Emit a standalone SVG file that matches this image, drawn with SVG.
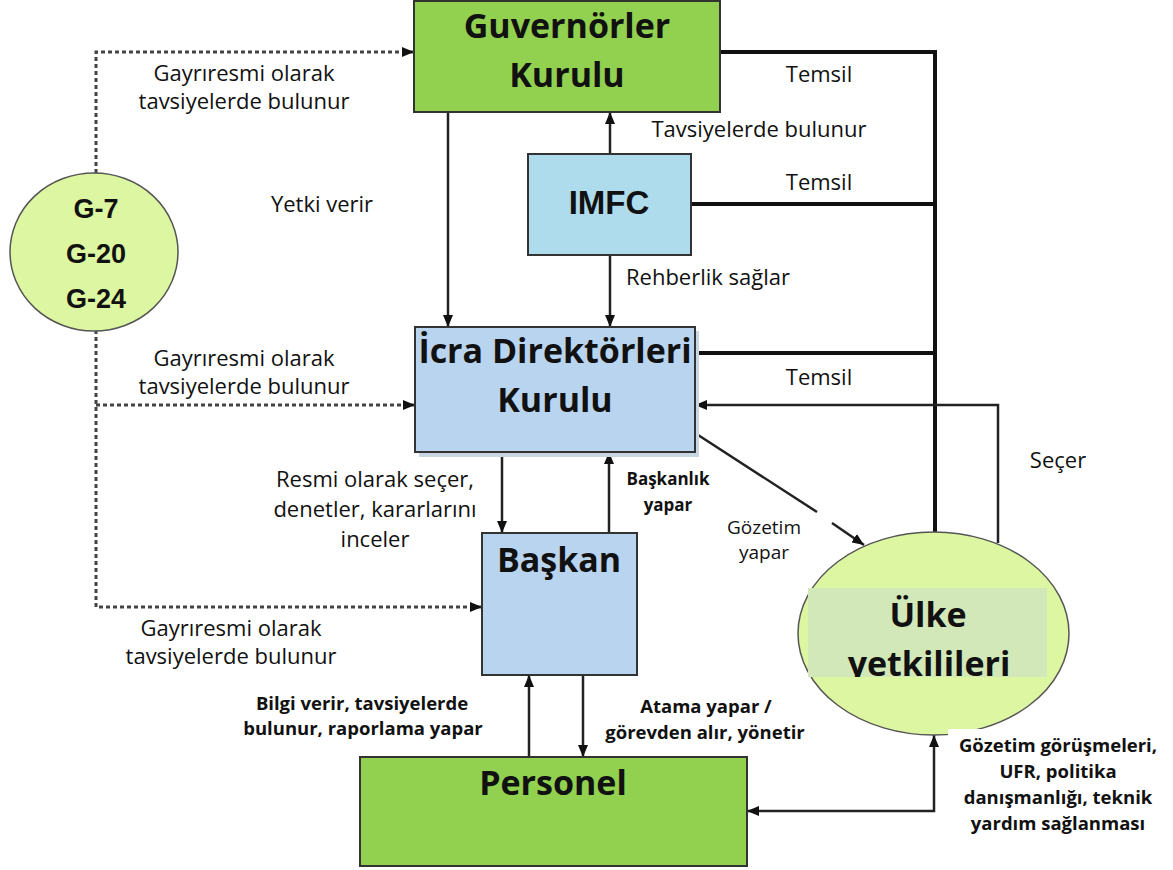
<svg xmlns="http://www.w3.org/2000/svg" width="1173" height="870" viewBox="0 0 1173 870">
<style>
.box{stroke:#333;stroke-width:2}
.green{fill:#92d050}
.blue{fill:#b9d4ee}
.cyan{fill:#afdcec}
.big{font-family:"Open Sans","Noto Sans",sans-serif;font-weight:bold;font-size:34px;fill:#111;text-anchor:middle}
.arial{font-family:"Liberation Sans",Arial,sans-serif;font-weight:bold;fill:#111;text-anchor:middle}
.lbl{font-family:"Open Sans","Noto Sans",sans-serif;font-size:22px;fill:#111;text-anchor:middle}
.sm{font-family:"Open Sans","Noto Sans",sans-serif;font-size:19px;fill:#111;text-anchor:middle}
.bl{font-family:"Open Sans","Noto Sans",sans-serif;font-weight:bold;font-size:18.5px;fill:#111;text-anchor:middle}
.bs{font-family:"Open Sans","Noto Sans",sans-serif;font-weight:bold;font-size:17px;fill:#111;text-anchor:middle}
.ln{fill:none;stroke:#222;stroke-width:2.5}
.thick{fill:none;stroke:#111;stroke-width:4}
.dot{fill:none;stroke:#444;stroke-width:3;stroke-dasharray:4 3}
</style>
<defs>
<marker id="arr" viewBox="0 0 12 10" refX="12" refY="5" markerWidth="12" markerHeight="10" markerUnits="userSpaceOnUse" orient="auto-start-reverse">
<path d="M0,0 L12,5 L0,10 z" fill="#111"/>
</marker>
<clipPath id="ulkeclip"><rect x="808" y="588" width="239" height="89"/></clipPath>
</defs>
<rect width="1173" height="870" fill="#fff"/>

<g id="connectors">
<path class="dot" d="M96,173 V52 H414" marker-end="url(#arr)"/>
<path class="dot" d="M96,330 V607 H482" marker-end="url(#arr)"/>
<path class="dot" d="M96,405 H415" marker-end="url(#arr)"/>
<path class="ln" d="M448,112 V327" marker-end="url(#arr)"/>
<path class="ln" d="M610,154 V112" marker-end="url(#arr)"/>
<path class="ln" d="M610,255 V327" marker-end="url(#arr)"/>
<path class="ln" d="M502,452 V533" marker-end="url(#arr)"/>
<path class="ln" d="M609,533 V452" marker-end="url(#arr)"/>
<path class="ln" d="M529,757 V675" marker-end="url(#arr)"/>
<path class="ln" d="M583,675 V757" marker-end="url(#arr)"/>
<path class="ln" d="M747,811 H934 V735" marker-start="url(#arr)" marker-end="url(#arr)"/>
<path class="thick" d="M720,52 H935 V532"/>
<path class="thick" d="M691,204 H935"/>
<path class="thick" d="M695,353 H935"/>
<path class="ln" d="M998,543 V405 H695" marker-end="url(#arr)"/>
<path class="ln" d="M695,433 L817,512 M832,523 L864,545" marker-end="url(#arr)"/>
</g>

<g id="guvernorler">
<rect class="box green" x="414" y="1" width="306" height="111"/>
<text class="big" x="567" y="38">Guvernörler</text>
<text class="big" x="567" y="87">Kurulu</text>
</g>

<g id="imfc">
<rect class="box cyan" x="528" y="154" width="163" height="101"/>
<text class="arial" x="609" y="214" font-size="33">IMFC</text>
</g>

<g id="icra">
<rect x="419" y="331" width="280" height="126" fill="#c8d6e4"/>
<rect class="box blue" x="415" y="327" width="280" height="125"/>
<text class="big" x="555" y="363">İcra Direktörleri</text>
<text class="big" x="555" y="412">Kurulu</text>
</g>

<g id="baskan">
<rect class="box blue" x="482" y="533" width="155" height="142"/>
<text class="big" x="559" y="572">Başkan</text>
</g>

<g id="personel">
<rect class="box green" x="360" y="757" width="387" height="109"/>
<text class="big" x="553" y="795">Personel</text>
</g>

<g id="g-groups">
<ellipse cx="94" cy="252" rx="84" ry="79" fill="#ddf6a1" stroke="#555" stroke-width="1.5"/>
<text class="arial" x="96" y="218" font-size="27">G-7</text>
<text class="arial" x="96" y="263" font-size="27">G-20</text>
<text class="arial" x="96" y="308" font-size="27">G-24</text>
</g>

<g id="ulke">
<ellipse cx="933.5" cy="633.5" rx="135.5" ry="101.5" fill="#ddf6a1" stroke="#555" stroke-width="1.5"/>
<rect x="808" y="588" width="239" height="89" fill="#d3e8b8"/>
<text class="big" x="928" y="627">Ülke</text>
<text class="big" x="929" y="676" clip-path="url(#ulkeclip)">yetkilileri</text>
</g>

<g id="labels">
<rect x="948" y="729" width="225" height="141" fill="#fff"/>
<text class="lbl" x="244" y="81">Gayrıresmi olarak</text>
<text class="lbl" x="244" y="109">tavsiyelerde bulunur</text>
<text class="lbl" x="322" y="212">Yetki verir</text>
<text class="lbl" x="819" y="82">Temsil</text>
<text class="lbl" x="759" y="137">Tavsiyelerde bulunur</text>
<text class="lbl" x="819" y="190">Temsil</text>
<text class="lbl" x="708" y="285">Rehberlik sağlar</text>
<text class="lbl" x="244" y="366">Gayrıresmi olarak</text>
<text class="lbl" x="244" y="394">tavsiyelerde bulunur</text>
<text class="lbl" x="819" y="385">Temsil</text>
<text class="lbl" x="1058" y="468">Seçer</text>
<text class="lbl" x="375" y="487">Resmi olarak seçer,</text>
<text class="lbl" x="375" y="517">denetler, kararlarını</text>
<text class="lbl" x="375" y="547">inceler</text>
<text class="bs" x="668" y="485">Başkanlık</text>
<text class="bs" x="668" y="511">yapar</text>
<text class="sm" x="764" y="534">Gözetim</text>
<text class="sm" x="764" y="559">yapar</text>
<text class="lbl" x="231" y="636">Gayrıresmi olarak</text>
<text class="lbl" x="231" y="664">tavsiyelerde bulunur</text>
<text class="bl" x="362" y="710">Bilgi verir, tavsiyelerde</text>
<text class="bl" x="363" y="735">bulunur, raporlama yapar</text>
<text class="bl" x="706" y="713">Atama yapar /</text>
<text class="bl" x="705" y="739">görevden alır, yönetir</text>
<text class="bl" x="1058" y="752">Gözetim görüşmeleri,</text>
<text class="bl" x="1058" y="778">UFR, politika</text>
<text class="bl" x="1058" y="804">danışmanlığı, teknik</text>
<text class="bl" x="1058" y="830">yardım sağlanması</text>
</g>
</svg>
